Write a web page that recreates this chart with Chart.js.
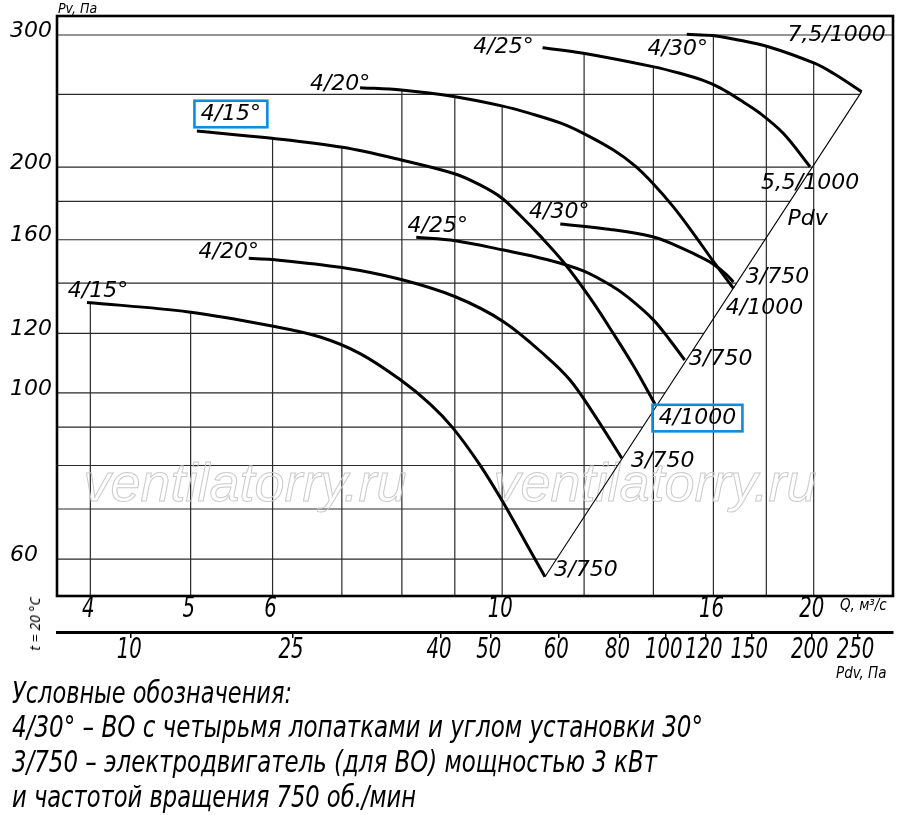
<!DOCTYPE html>
<html><head><meta charset="utf-8">
<script src="https://cdn.jsdelivr.net/npm/chart.js@4.4.0/dist/chart.umd.min.js"></script>
<style>
html,body{margin:0;padding:0;background:#fff;}
#wrap{position:relative;width:900px;height:815px;overflow:hidden;background:#fff;}
canvas{position:absolute;left:0;top:0;}
.t{position:absolute;white-space:nowrap;font-style:italic;color:#000;line-height:1;}
.nar{font-family:"Liberation Sans Narrow","DejaVu Sans Condensed",sans-serif;}
.leg{font-size:30px;left:12px;transform-origin:0 0;}
</style></head><body>
<div id="wrap">
<canvas id="c" width="900" height="815"></canvas>
<div class="t nar" style="left:58px;top:1px;font-size:14px;">Pv, Па</div>
<div class="t nar" style="left:840px;top:598px;font-size:15px;">Q, м³/с</div>
<div class="t nar" style="left:836px;top:666px;font-size:15px;">Pdv, Па</div>
<div class="t" style="left:35px;top:624px;font-family:'Noto Sans',sans-serif;font-size:14px;transform:translate(-50%,-50%) rotate(-90deg);">t = 20 °C</div>
<div class="t nar leg" data-w="280" style="top:678px;">Условные обозначения:</div>
<div class="t nar leg" data-w="691" style="top:712px;">4/30° – ВО с четырьмя лопатками и углом установки 30°</div>
<div class="t nar leg" data-w="645" style="top:747px;">3/750 – электродвигатель (для ВО) мощностью 3 кВт</div>
<div class="t nar leg" data-w="404" style="top:782px;">и частотой вращения 750 об./мин</div>
</div>
<script>
// ---- data (Q in m³/s, Pv in Pa) ----
// lower family, motor 3/750
const q15a  = [3.97, 4.98, 5.99, 6.67, 7.29, 7.98, 8.52, 8.96, 9.52, 10.03, 10.52, 11.0];
const pv15a = [132.0, 128.2, 122.8, 118.7, 112.8, 104.0, 96.6, 89.8, 80.1, 71.3, 63.4, 56.85];
const q20a  = [5.69, 5.99, 7.0, 7.97, 9.01, 10.03, 11.04, 11.63, 12.25, 13.05];
const pv20a = [151.1, 150.6, 146.9, 141.7, 134.3, 124.4, 111.7, 104.0, 93.9, 81.8];
const q25a  = [8.26, 9.01, 10.03, 11.04, 11.98, 12.81, 13.29, 14.0, 14.52, 15.01];
const pv25a = [161.2, 159.5, 155.0, 150.6, 145.4, 138.4, 133.4, 125.1, 117.6, 110.6];
const q30a  = [11.38, 12.73, 13.98, 14.69, 15.30, 15.96, 16.48, 16.73];
const pv30a = [167.9, 165.1, 161.5, 157.4, 153.4, 148.8, 143.6, 140.5];
// upper family
const q15b  = [5.07, 5.99, 7.01, 7.99, 9.01, 9.52, 9.99, 10.40, 10.88, 11.46, 12.16, 12.80, 13.41, 14.05];
const pv15b = [223.4, 218.5, 212.5, 204.4, 195.8, 189.3, 181.9, 172.6, 161.9, 149.4, 133.8, 120.1, 108.3, 96.6];
const q20b  = [7.29, 7.99, 9.01, 9.99, 10.64, 11.38, 11.98, 12.81, 13.44, 13.98, 14.63, 15.30, 15.96, 16.73];
const pv20b = [255.2, 253.4, 248.2, 241.3, 235.8, 229.0, 221.8, 210.7, 200.7, 190.3, 177.1, 163.2, 150.4, 137.8];
const q25b  = [10.94, 11.98, 13.98, 14.85, 15.64, 16.24, 16.98, 17.75, 18.69, 19.84];
const pv25b = [288.5, 283.6, 272.2, 266.7, 260.9, 255.0, 245.7, 235.9, 221.8, 200.2];
const q30b  = [15.08, 15.96, 16.73, 18.08, 20.03, 20.89, 22.25];
const pv30b = [300.6, 299.5, 296.3, 289.4, 275.1, 266.7, 252.1];
// Pdv line (locus of curve ends)
const pdvQ  = [11.0, 22.25];
const pdvPv = [56.85, 252.1];

const bladeLabels = ['4/15°','4/20°','4/25°','4/30°','4/15°','4/20°','4/25°','4/30°'];
const motorLabels = ['3/750','3/750','3/750','3/750','4/1000','4/1000','5,5/1000','7,5/1000'];

// axes
const qTicks  = [4, 5, 6, 10, 16, 20];
const qGrid   = [4, 5, 6, 7, 8, 9, 10, 12, 14, 16, 18, 20];
const pvTicks = [60, 100, 120, 160, 200, 300];
const pvGrid  = [60, 70, 80, 90, 100, 120, 140, 160, 180, 200, 250, 300];
const pdvLabels  = ['10','25','40','50','60','80','100','120','150','200','250'];
const pdvTickAtQ = [4.38, 6.28, 8.73, 9.75, 11.33, 12.98, 14.39, 15.73, 17.41, 19.91, 22.05];
const Q_MIN = 3.714, Q_MAX = 23.86, PV_MIN = 53.59, PV_MAX = 318.0;

// ---- layout / style (not data) ----
const LABEL_LAYOUT = {
  font: 'italic 22px "DejaVu Sans", sans-serif',
  boxColor: '#0d8ddb',
  start: [[11,-11],[-20,-6],[21.5,-11],[-1,-12],[34,-17],[-20,-3],[-39,0],[-9,15]],
  end:   [[41,-6],[41,3],[36,-1],[44,-5],[42.5,14],[31,20],[0,17],[-25,-56]],
  boxedStart: [4], boxedEnd: [4],
  pdv: [-54, 128]
};
const NARROW = '"Liberation Sans Narrow", "DejaVu Sans Condensed", sans-serif';
const AXIS_TEXT = {font: 'italic 28px ' + NARROW, squeeze: 0.78, dx: -2, qY: 610, pdvY: 651};

const series = [[q15a,pv15a],[q20a,pv20a],[q25a,pv25a],[q30a,pv30a],[q15b,pv15b],[q20b,pv20b],[q25b,pv25b],[q30b,pv30b]];
const toPts = (qs, ps) => qs.map((q, i) => ({x: q, y: ps[i]}));
const datasets = series.map(([qs, ps], i) => ({
  label: bladeLabels[i] + ' ' + motorLabels[i],
  data: toPts(qs, ps),
  borderColor: '#000', borderWidth: 3, pointRadius: 0, fill: false,
  tension: 0.35, borderCapStyle: 'butt', borderJoinStyle: 'round'
}));
datasets.push({label: 'Pdv', data: toPts(pdvQ, pdvPv), borderColor: '#000', borderWidth: 1.1, pointRadius: 0, tension: 0, fill: false});
const PDV_INDEX = datasets.length - 1;

function segY(A, B, px) {
  if (A.cp2x === undefined || B.cp1x === undefined) return A.y + (B.y - A.y) * (px - A.x) / (B.x - A.x);
  const bz = (t, p0, p1, p2, p3) => { const m = 1 - t; return m*m*m*p0 + 3*m*m*t*p1 + 3*m*t*t*p2 + t*t*t*p3; };
  let lo = 0, hi = 1;
  for (let k = 0; k < 40; k++) {
    const mid = (lo + hi) / 2;
    if (bz(mid, A.x, A.cp2x, B.cp1x, B.x) < px) lo = mid; else hi = mid;
  }
  const t = (lo + hi) / 2;
  return bz(t, A.y, A.cp2y, B.cp1y, B.y);
}

const gridPlugin = {
  id: 'clippedGrid',
  beforeDatasetsDraw(chart) {
    const {ctx, chartArea: a, scales: {x, y}} = chart;
    const diag = chart.getDatasetMeta(PDV_INDEX).data;
    ctx.save();
    ctx.strokeStyle = '#2a2a2a';
    ctx.lineWidth = 1.2;
    pvGrid.forEach(v => {
      const py = y.getPixelForValue(v);
      let xEnd = a.right;
      const p0 = diag[0], p1 = diag[1];
      if (py <= p0.y && py >= p1.y) xEnd = p0.x + (p1.x - p0.x) * (py - p0.y) / (p1.y - p0.y);
      ctx.beginPath(); ctx.moveTo(a.left, py); ctx.lineTo(xEnd, py); ctx.stroke();
    });
    qGrid.forEach(q => {
      const px = x.getPixelForValue(q);
      let yTop = Infinity;
      for (let i = 0; i < PDV_INDEX; i++) {
        const pts = chart.getDatasetMeta(i).data;
        for (let k = 0; k < pts.length - 1; k++) {
          const A = pts[k], B = pts[k + 1];
          if (px >= A.x && px <= B.x) {
            const yy = segY(A, B, px);
            if (yy < yTop) yTop = yy;
          }
        }
      }
      if (!isFinite(yTop)) yTop = a.top;
      ctx.beginPath(); ctx.moveTo(px, yTop); ctx.lineTo(px, a.bottom); ctx.stroke();
    });
    ctx.font = 'italic 54px "Liberation Sans", Arial, sans-serif';
    ctx.textAlign = 'center'; ctx.textBaseline = 'alphabetic';
    ctx.strokeStyle = '#cacaca'; ctx.lineWidth = 1;
    ctx.strokeText('ventilatorry.ru', 245, 501);
    ctx.strokeText('ventilatorry.ru', 655, 501);
    ctx.restore();
  },
  afterDatasetsDraw(chart) {
    const {ctx, chartArea: a} = chart;
    ctx.save();
    ctx.strokeStyle = '#000'; ctx.lineWidth = 2.6;
    ctx.strokeRect(a.left, a.top, a.right - a.left, a.bottom - a.top);
    ctx.restore();
  }
};

const axisTextPlugin = {
  id: 'axisText',
  afterDraw(chart) {
    const ctx = chart.ctx, T = AXIS_TEXT;
    ctx.save();
    ctx.font = T.font; ctx.fillStyle = '#000';
    ctx.textAlign = 'center'; ctx.textBaseline = 'middle';
    const draw = (scale, labels, yc) => {
      scale.ticks.forEach((t, i) => {
        const px = scale.getPixelForValue(t.value) + T.dx;
        ctx.save(); ctx.translate(px, yc); ctx.scale(T.squeeze, 1);
        ctx.fillText(labels[i], 0, 0);
        ctx.restore();
      });
    };
    draw(chart.scales.x, qTicks.map(String), T.qY);
    draw(chart.scales.x2, pdvLabels, T.pdvY);
    ctx.restore();
  }
};

const labelPlugin = {
  id: 'curveLabels',
  afterDatasetsDraw(chart) {
    const ctx = chart.ctx, L = LABEL_LAYOUT;
    ctx.save();
    ctx.font = L.font; ctx.fillStyle = '#000';
    ctx.textAlign = 'center'; ctx.textBaseline = 'middle';
    const put = (txt, p, off, boxed) => {
      const cx = p.x + off[0], cy = p.y + off[1];
      ctx.fillText(txt, cx, cy);
      if (boxed) {
        const w = ctx.measureText(txt).width + 12.5, h = 26.5;
        ctx.strokeStyle = L.boxColor; ctx.lineWidth = 2.6;
        ctx.strokeRect(cx - w / 2, cy - h / 2, w, h);
      }
    };
    for (let i = 0; i < PDV_INDEX; i++) {
      const pts = chart.getDatasetMeta(i).data;
      put(bladeLabels[i], pts[0], L.start[i], L.boxedStart.includes(i));
      put(motorLabels[i], pts[pts.length - 1], L.end[i], L.boxedEnd.includes(i));
    }
    const dp = chart.getDatasetMeta(PDV_INDEX).data;
    put('Pdv', dp[dp.length - 1], L.pdv, false);
    ctx.restore();
  }
};

new Chart(document.getElementById('c'), {
  type: 'line',
  data: {datasets},
  options: {
    responsive: false, animation: false, devicePixelRatio: 1,
    layout: {padding: {left: 0, top: 16, right: 7, bottom: 133}},
    plugins: {legend: {display: false}, tooltip: {enabled: false}},
    scales: {
      x: {
        type: 'logarithmic', position: 'bottom', weight: 0, min: Q_MIN, max: Q_MAX,
        grid: {display: false, drawTicks: false}, border: {display: false},
        afterBuildTicks: s => { s.ticks = qTicks.map(v => ({value: v})); },
        afterFit: s => { s.height = 36; s.paddingLeft = 0; s.paddingRight = 0; },
        ticks: {display: false, autoSkip: false}
      },
      x2: {
        type: 'logarithmic', position: 'bottom', weight: 1, min: Q_MIN, max: Q_MAX,
        grid: {display: true, drawOnChartArea: false, drawTicks: true, tickLength: 6, color: '#000', lineWidth: 1.5},
        border: {display: true, color: '#000', width: 3},
        afterBuildTicks: s => { s.ticks = pdvTickAtQ.map(v => ({value: v})); },
        afterFit: s => { s.height = 50; s.paddingLeft = 0; s.paddingRight = 0; },
        ticks: {display: false, autoSkip: false}
      },
      y: {
        type: 'logarithmic', position: 'left', min: PV_MIN, max: PV_MAX,
        grid: {display: false, drawTicks: false}, border: {display: false},
        afterBuildTicks: s => { s.ticks = pvTicks.map(v => ({value: v})); },
        afterFit: s => { s.width = 57; s.paddingTop = 0; s.paddingBottom = 0; },
        ticks: {autoSkip: false, padding: 5, labelOffset: -4, color: '#000',
          font: {family: '"DejaVu Sans", sans-serif', size: 22, style: 'italic'},
          callback: v => (v === 60 ? '60  ' : String(v))}
      }
    }
  },
  plugins: [gridPlugin, labelPlugin, axisTextPlugin]
});

document.querySelectorAll('.leg').forEach(el => {
  const w = el.getBoundingClientRect().width;
  const target = +el.dataset.w;
  if (w > 0) el.style.transform = 'scaleX(' + (target / w) + ')';
});
</script>
</body></html>
